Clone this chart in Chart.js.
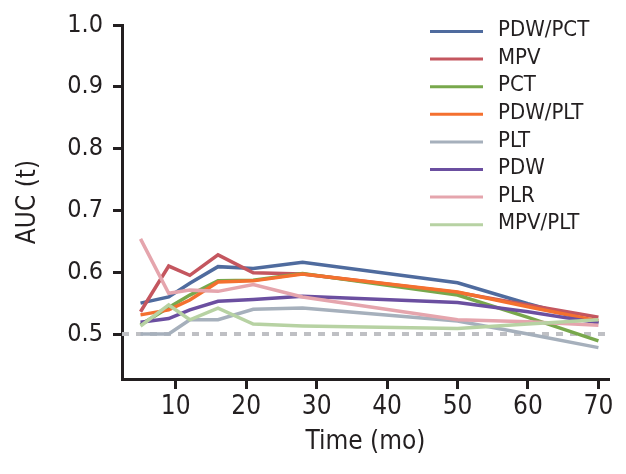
<!DOCTYPE html>
<html><head><meta charset="utf-8">
<script src="https://cdn.jsdelivr.net/npm/chart.js@4/dist/chart.umd.min.js"></script>
<style>html,body{margin:0;padding:0;background:#fff}</style>
</head><body>
<canvas id="c" width="626" height="474"></canvas>
<script>
const times = [5, 9, 12, 16, 21, 28, 50, 60, 70];
const seriesNames = ['PDW/PCT', 'MPV', 'PCT', 'PDW/PLT', 'PLT', 'PDW', 'PLR', 'MPV/PLT'];
const pdwPct = [0.550, 0.560, 0.582, 0.609, 0.606, 0.616, 0.583, 0.549, 0.518];
const mpv    = [0.536, 0.610, 0.595, 0.628, 0.599, 0.597, 0.567, 0.547, 0.527];
const pct    = [0.515, 0.543, 0.563, 0.586, 0.587, 0.598, 0.563, 0.527, 0.489];
const pdwPlt = [0.531, 0.539, 0.555, 0.584, 0.586, 0.597, 0.568, 0.544, 0.521];
const plt    = [0.500, 0.500, 0.523, 0.523, 0.540, 0.542, 0.521, 0.500, 0.478];
const pdw    = [0.519, 0.525, 0.539, 0.553, 0.556, 0.561, 0.551, 0.536, 0.518];
const plr    = [0.654, 0.566, 0.571, 0.569, 0.580, 0.560, 0.523, 0.520, 0.514];
const mpvPlt = [0.513, 0.547, 0.523, 0.542, 0.516, 0.513, 0.509, 0.516, 0.523];
const seriesValues = [pdwPct, mpv, pct, pdwPlt, plt, pdw, plr, mpvPlt];
const seriesColors = ['#4f6b9e', '#c4565f', '#78a84c', '#f4702f', '#a6b0bc', '#6b4fa0', '#e5a5ad', '#b7d2a3'];
const xTicks = [10, 20, 30, 40, 50, 60, 70];
const yTicks = [0.5, 0.6, 0.7, 0.8, 0.9, 1.0];
const refLine = 0.5;

const ink = '#231f20';
const condFamily = '"Liberation Sans Narrow", "DejaVu Sans Condensed", sans-serif';
const datasets = seriesNames.map((name, i) => ({
  label: name,
  data: times.map((t, j) => ({x: t, y: seriesValues[i][j]})),
  borderColor: seriesColors[i],
  backgroundColor: seriesColors[i],
  borderWidth: 3.5,
  pointRadius: 0,
  tension: 0,
  fill: false,
  order: seriesNames.length - i
}));

const refPlugin = {
  id: 'refLine',
  beforeDatasetsDraw(chart) {
    const {ctx, chartArea, scales} = chart;
    const y = scales.y.getPixelForValue(refLine);
    ctx.save();
    ctx.strokeStyle = '#bfc0c4';
    ctx.lineWidth = 4;
    ctx.setLineDash([7, 7]);
    ctx.beginPath();
    ctx.moveTo(chartArea.left, y);
    ctx.lineTo(chartArea.right, y);
    ctx.stroke();
    ctx.restore();
  }
};

const legendPlugin = {
  id: 'customLegend',
  afterDraw(chart) {
    const ctx = chart.ctx;
    ctx.save();
    ctx.font = '22px ' + condFamily;
    ctx.textBaseline = 'middle';
    ctx.textAlign = 'left';
    chart.data.datasets.forEach((ds, i) => {
      const y = 31.5 + i * 27.6;
      ctx.strokeStyle = ds.borderColor;
      ctx.lineWidth = 3;
      ctx.beginPath();
      ctx.moveTo(430, y);
      ctx.lineTo(483, y);
      ctx.stroke();
      ctx.fillStyle = ink;
      ctx.fillText(ds.label, 498, y - 1);
    });
    ctx.restore();
  }
};

new Chart(document.getElementById('c'), {
  type: 'line',
  data: {datasets},
  plugins: [refPlugin, legendPlugin],
  options: {
    responsive: false,
    animation: false,
    devicePixelRatio: 1,
    layout: {padding: {top: 25, right: 17, left: 0, bottom: 0}},
    plugins: {legend: {display: false}, tooltip: {enabled: false}},
    scales: {
      x: {
        type: 'linear',
        min: 2.37,
        max: 71.5,
        afterBuildTicks: s => { s.ticks = xTicks.map(v => ({value: v})); },
        afterFit: s => { s.height = 95; },
        border: {display: true, color: ink, width: 3},
        grid: {drawOnChartArea: false, drawTicks: true, tickLength: 10, tickWidth: 3, tickColor: ink},
        ticks: {font: {family: condFamily, size: 26}, color: ink, padding: 3, maxRotation: 0, autoSkip: false},
        title: {display: true, text: 'Time (mo)', color: ink, font: {family: condFamily, size: 26}, padding: {top: 0, bottom: 16}}
      },
      y: {
        type: 'linear',
        min: 0.4272,
        max: 1.0,
        afterBuildTicks: s => { s.ticks = yTicks.map(v => ({value: v})); },
        afterFit: s => { s.width = 122; },
        border: {display: true, color: ink, width: 3},
        grid: {drawOnChartArea: false, drawTicks: true, tickLength: 9, tickWidth: 3, tickColor: ink},
        ticks: {font: {family: condFamily, size: 25}, color: ink, padding: 10, callback: v => v.toFixed(1)},
        title: {display: true, text: 'AUC (t)', color: ink, font: {family: condFamily, size: 26}, padding: {top: 13, bottom: 0}}
      }
    }
  }
});
</script>
</body></html>
